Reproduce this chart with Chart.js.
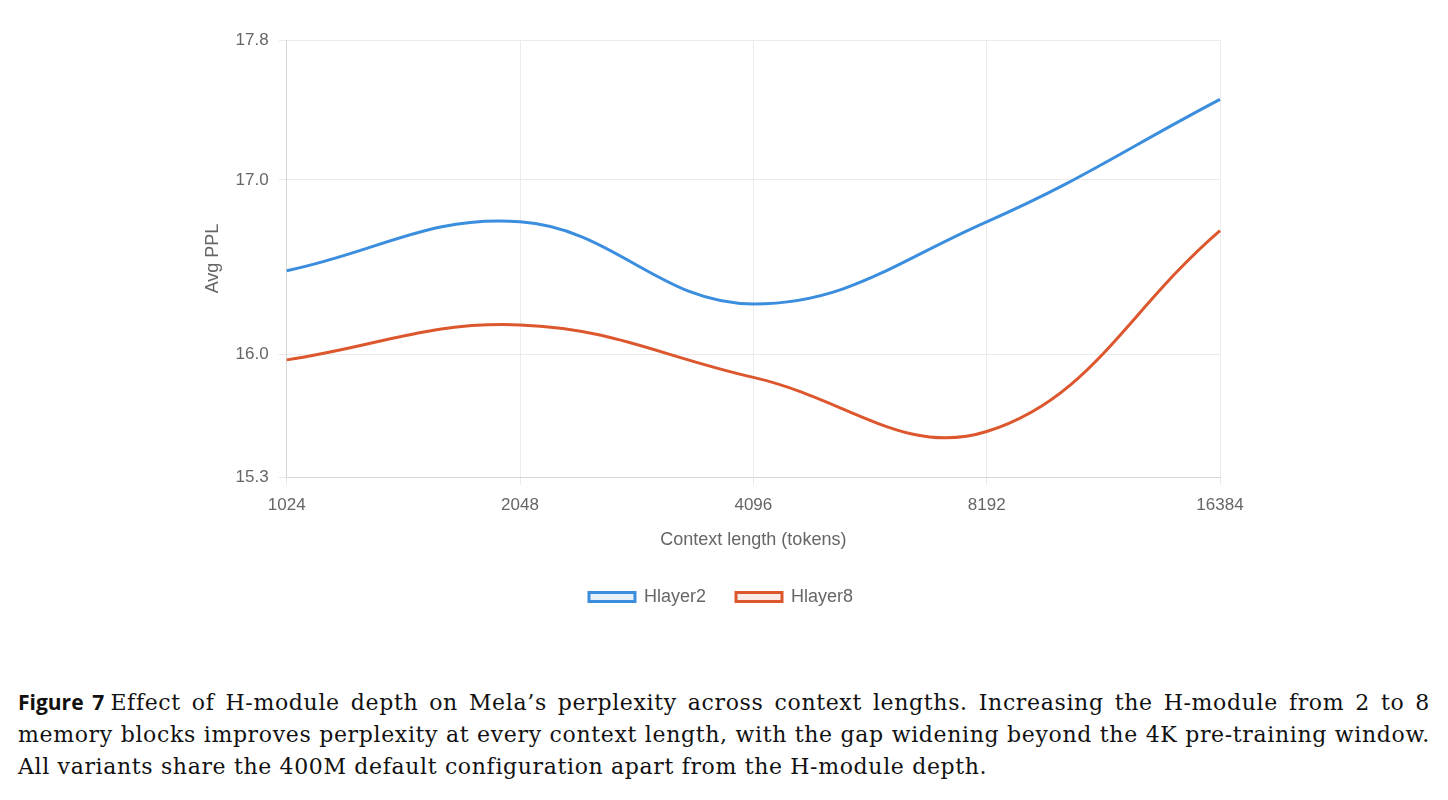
<!DOCTYPE html>
<html>
<head>
<meta charset="utf-8">
<script src="https://cdn.jsdelivr.net/npm/chart.js@4.4.1/dist/chart.umd.min.js"></script>
<style>
  html, body { margin: 0; padding: 0; background: #fff; }
  body { width: 1448px; height: 800px; position: relative; overflow: hidden; }
  #chart-wrap { position: absolute; left: 0; top: 0; width: 1448px; height: 640px; }
  .caption {
    position: absolute; left: 18px; top: 686px; width: 1412px;
    font-family: 'DejaVu Serif', serif; font-size: 22px; letter-spacing: 0.65px; line-height: 32px; color: #111;
  }
  .caption .ln { white-space: nowrap; }
  .caption .just { text-align: justify; text-align-last: justify; white-space: normal; }
  .caption b { font-family: 'Open Sans', sans-serif; font-weight: 700; font-size: 21px; letter-spacing: 0; white-space: nowrap; margin-right: 6px; }
</style>
</head>
<body>
<div id="chart-wrap"><canvas id="ppl-chart"></canvas></div>
<div class="caption">
  <div class="ln just"><b>Figure&nbsp;7</b>Effect of H-module depth on Mela’s perplexity across context lengths. Increasing the H-module from 2 to 8</div>
  <div class="ln just">memory blocks improves perplexity at every context length, with the gap widening beyond the 4K pre-training window.</div>
  <div class="ln">All variants share the 400M default configuration apart from the H-module depth.</div>
</div>
<script>
const contextLengths = ['1024', '2048', '4096', '8192', '16384'];
const hlayer2 = [16.48, 16.76, 16.29, 16.76, 17.46];
const hlayer8 = [15.97, 16.17, 15.87, 15.56, 16.71];
const yTicks = [15.3, 16.0, 17.0, 17.8];

const TICK_FONT = { family: "'Liberation Sans', Arial, sans-serif", size: 17 };
const TITLE_FONT = { family: "'Liberation Sans', Arial, sans-serif", size: 18 };
const GRID = '#ebebeb';
const AXIS = '#d6d6d6';

// nudge the legend a bit right so it sits where the original one does
const legendShift = {
  id: 'legendShift',
  afterLayout(chart) {
    if (!chart.legend) return;
    chart.legend.left += 13;
    chart.legend.right += 13;
  },
};

new Chart(document.getElementById('ppl-chart'), {
  type: 'line',
  data: {
    labels: contextLengths,
    datasets: [
      {
        label: 'Hlayer2',
        data: hlayer2,
        borderColor: '#3b8ede',
        backgroundColor: 'rgba(59, 142, 222, 0.12)',
        borderWidth: 3,
        pointRadius: 0,
        tension: 0.4,
      },
      {
        label: 'Hlayer8',
        data: hlayer8,
        borderColor: '#dd572e',
        backgroundColor: 'rgba(221, 87, 46, 0.12)',
        borderWidth: 3,
        pointRadius: 0,
        tension: 0.4,
      },
    ],
  },
  plugins: [legendShift],
  options: {
    responsive: true,
    maintainAspectRatio: false,
    animation: false,
    layout: { padding: { left: 196, right: 228, top: 40, bottom: 24 } },
    plugins: {
      legend: {
        position: 'bottom',
        labels: { font: TITLE_FONT, color: '#666', boxWidth: 46, boxHeight: 9, padding: 30 },
      },
      tooltip: { enabled: false },
    },
    scales: {
      x: {
        grid: { color: GRID, tickLength: 8 },
        border: { color: AXIS },
        ticks: { font: TICK_FONT, color: '#666', padding: 10, maxRotation: 0 },
        title: { display: true, text: 'Context length (tokens)', font: TITLE_FONT, color: '#666', padding: { top: 4, bottom: 7 } },
      },
      y: {
        min: 15.3,
        max: 17.8,
        grid: { color: GRID, tickLength: 8 },
        border: { color: AXIS },
        afterBuildTicks: (axis) => { axis.ticks = yTicks.map((v) => ({ value: v })); },
        ticks: { font: TICK_FONT, color: '#666', padding: 10, callback: (v) => Number(v).toFixed(1) },
        title: { display: true, text: 'Avg PPL', font: TITLE_FONT, color: '#666', padding: { top: 6, bottom: 2 } },
      },
    },
  },
});
</script>
</body>
</html>
